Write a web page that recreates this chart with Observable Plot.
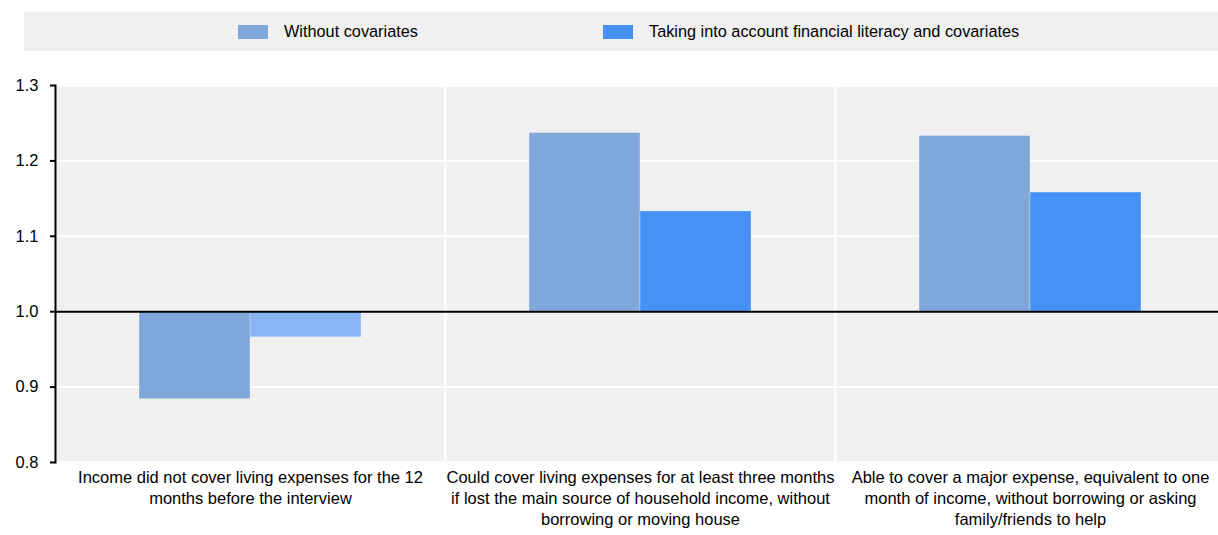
<!DOCTYPE html>
<html><head><meta charset="utf-8">
<script src="https://cdn.jsdelivr.net/npm/d3@7"></script>
<script src="https://cdn.jsdelivr.net/npm/@observablehq/plot@0.6"></script>
<style>
body{margin:0;background:#fff;overflow:hidden;font-family:"Liberation Sans",Arial,sans-serif;}
#legend{position:relative;margin:12px 0 0 24px;width:1194px;height:39px;background:#f0f0f0;}
.item{position:absolute;top:0;height:39px;display:flex;align-items:center;font-size:16.3px;color:#000;white-space:nowrap;}
.sw{width:30px;height:14px;margin-right:16px;}
#chart{margin-top:9px;height:475px;width:1227px;}
#chart svg{max-width:none !important;}
</style></head><body>
<div id="legend"></div><div id="chart"></div>
<script>
const categories = ["income", "threeMonths", "majorExpense"];
const categoryLabels = [
  "Income did not cover living expenses for the 12\nmonths before the interview",
  "Could cover living expenses for at least three months\nif lost the main source of household income, without\nborrowing or moving house",
  "Able to cover a major expense, equivalent to one\nmonth of income, without borrowing or asking\nfamily/friends to help"
];
const series = ["Without covariates", "Taking into account financial literacy and covariates"];
const withoutCovariates = [0.884, 1.237, 1.233];
const withCovariates = [0.966, 1.133, 1.158];
const withSignificant = [false, true, true];
const yTicks = [0.8, 0.9, 1.0, 1.1, 1.2, 1.3];

const colors = {without: "#7fa7d9", with: "#4790f5", withLight: "#88b5f4"};

const rows = [];
categories.forEach((c, i) => {
  rows.push({category: c, series: series[0], value: withoutCovariates[i], sig: true});
  rows.push({category: c, series: series[1], value: withCovariates[i], sig: withSignificant[i]});
});
const fillOf = d => d.series === series[0] ? colors.without : (d.sig ? colors.with : colors.withLight);

// legend
const legend = document.getElementById("legend");
const legendX = [214, 579];
series.forEach((s, i) => {
  const it = document.createElement("div");
  it.className = "item";
  it.style.left = legendX[i] + "px";
  const sw = document.createElement("span");
  sw.className = "sw";
  sw.style.background = i === 0 ? colors.without : colors.with;
  it.appendChild(sw);
  it.appendChild(document.createTextNode(s));
  legend.appendChild(it);
});

const chart = Plot.plot({
  width: 1227, height: 475,
  marginLeft: 54, marginRight: 1, marginTop: 25, marginBottom: 73,
  style: {fontFamily: "Liberation Sans, Arial, sans-serif", fontSize: "16px", color: "#000", background: "transparent", overflow: "visible", maxWidth: "none"},
  fx: {domain: categories, padding: 0, axis: null},
  x: {domain: series, paddingInner: 0, paddingOuter: 0.75, axis: null},
  y: {domain: [0.8, 1.3], label: null},
  marks: [
    Plot.frame({fill: "#f0f0f0", stroke: "#fff", strokeWidth: 2}),
    Plot.ruleY(yTicks, {stroke: "#fff", strokeWidth: 2}),
    Plot.barY(rows, {fx: "category", x: "series", y1: () => 1, y2: "value", fill: fillOf, stroke: "#ffffff", strokeOpacity: 0.3, strokeWidth: 1}),
    Plot.ruleY([1], {stroke: "#000", strokeWidth: 2}),
    Plot.frame({anchor: "left", facetAnchor: "left", stroke: "#000", strokeWidth: 2}),
    Plot.axisY({ticks: yTicks, tickFormat: d => d.toFixed(1), tickSize: 5, tickPadding: 12, stroke: "#000", strokeWidth: 2, fill: "#000", fontSize: 16.5, label: null}),
    Plot.text(categories, {fx: d => d, y: () => 0.8, text: (d, i) => categoryLabels[i], lineAnchor: "top", dy: 6, fontSize: 16.5, lineHeight: 1.27, fill: "#000"})
  ]
});
document.getElementById("chart").appendChild(chart);
</script>
</body></html>
